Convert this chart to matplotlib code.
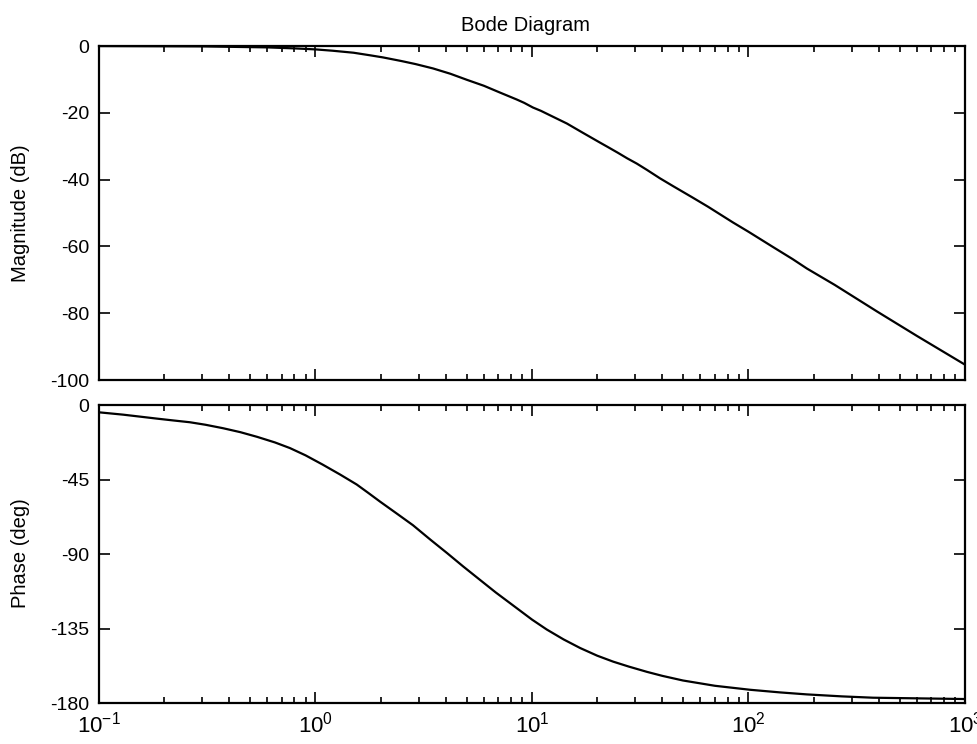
import matplotlib
matplotlib.use("Agg")
import matplotlib.pyplot as plt
from matplotlib.ticker import LogLocator, NullFormatter, FixedLocator

plt.rcParams["font.family"] = ["Liberation Sans", "DejaVu Sans"]
plt.rcParams["mathtext.fontset"] = "custom"
plt.rcParams["mathtext.rm"] = "Liberation Sans"
plt.rcParams["mathtext.it"] = "Liberation Sans"
plt.rcParams["axes.unicode_minus"] = False

# ---- values ------------------------------------------------------------
mag_freq = [0.1, 0.3, 0.6, 0.8, 1.0, 1.2, 1.5, 1.8, 2.05, 2.5, 2.9, 3.49, 4.2,
            5.0, 6.0, 7.1, 8.5, 9.2, 10.1, 11.0, 12.0, 13.0, 14.5, 15.7, 17.0,
            20.6, 22.5, 25.0, 27.5, 30.5, 34.0, 39.0, 45.0, 55.0, 65.0, 84.7,
            100.0, 130.0, 160.0, 186.0, 250.0, 393.0, 600.0, 1000.0]
mag_db = [0.0, -0.1, -0.4, -0.7, -1.0, -1.4, -2.0, -2.8, -3.4, -4.5, -5.4,
          -6.7, -8.3, -10.1, -11.9, -13.9, -16.0, -17.0, -18.4, -19.4, -20.6,
          -21.7, -23.2, -24.5, -25.8, -28.9, -30.3, -32.0, -33.6, -35.2, -37.1,
          -39.6, -42.0, -45.3, -48.1, -52.8, -55.6, -60.2, -63.8, -66.6, -71.5,
          -79.5, -86.8, -95.4]

ph_freq = [0.1, 0.129, 0.15, 0.185, 0.22, 0.263, 0.31, 0.374, 0.45, 0.537,
           0.65, 0.762, 0.9, 1.08, 1.3, 1.55, 1.75, 1.99, 2.4, 2.82, 3.4, 4.05,
           4.8, 5.75, 6.8, 8.17, 10.0, 11.7, 14.0, 16.7, 20.0, 23.7, 28.0, 34.0,
           40.0, 49.8, 70.0, 101.6, 140.0, 186.0, 270.0, 376.0, 1000.0]
ph_deg = [-4.4, -5.8, -6.8, -8.2, -9.3, -10.4, -11.9, -14.0, -16.4, -19.2,
          -22.6, -26.0, -30.4, -36.0, -42.0, -48.0, -53.0, -58.4, -66.0, -72.6,
          -81.4, -89.4, -97.4, -105.6, -113.2, -121.0, -129.6, -135.6, -141.6,
          -146.8, -151.4, -155.0, -158.0, -161.2, -163.6, -166.4, -169.6, -172.0,
          -173.6, -174.8, -176.0, -176.8, -177.6]

mag_ticks = [0, -20, -40, -60, -80, -100]
ph_ticks = [0, -45, -90, -135, -180]

# ---- figure ------------------------------------------------------------
fig = plt.figure(figsize=(9.78, 7.44), dpi=100)
ax1 = fig.add_axes([0.1012, 0.4892, 0.8855, 0.4489])
ax2 = fig.add_axes([0.1012, 0.0551, 0.8855, 0.4005])

ax1.plot(mag_freq, mag_db, color="black", linewidth=1.6)
ax2.plot(ph_freq, ph_deg, color="black", linewidth=1.6)

for ax in (ax1, ax2):
    ax.set_xscale("log")
    ax.set_xlim(0.1, 1000)
    ax.xaxis.set_major_locator(LogLocator(base=10, numticks=10))
    ax.xaxis.set_minor_locator(LogLocator(base=10, subs=range(2, 10), numticks=50))
    ax.xaxis.set_minor_formatter(NullFormatter())
    ax.tick_params(which="both", direction="in", top=True, right=True, width=1.2)
    ax.tick_params(which="major", length=8)
    ax.tick_params(which="minor", length=4.5)
    ax.tick_params(axis="y", labelsize=14, pad=7)
    ax.tick_params(axis="x", labelsize=16, pad=6)
    for sp in ax.spines.values():
        sp.set_linewidth(1.6)

ax1.set_ylim(-100, 0)
ax1.yaxis.set_major_locator(FixedLocator(mag_ticks))
ax1.tick_params(axis="x", labelbottom=False)

ax2.set_ylim(-180, 0)
ax2.yaxis.set_major_locator(FixedLocator(ph_ticks))

ax1.set_title("Bode Diagram", fontsize=14.5, pad=11, x=0.492)
fig.text(0.021, 0.713, "Magnitude (dB)", rotation=90, fontsize=14.5,
         ha="center", va="center")
fig.text(0.021, 0.256, "Phase (deg)", rotation=90, fontsize=14.5,
         ha="center", va="center")

fig.savefig("out.png", dpi=100)
